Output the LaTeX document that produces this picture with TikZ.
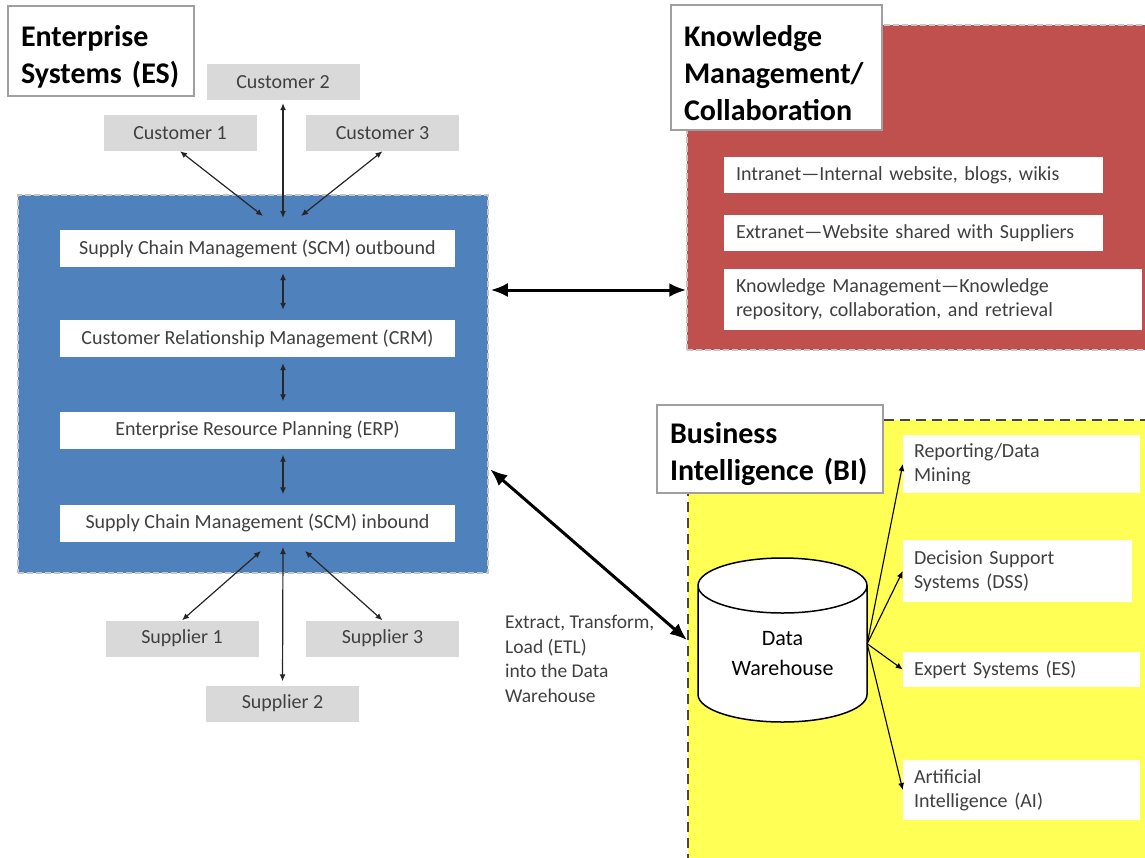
\documentclass[tikz,border=0pt]{standalone}
\usepackage{fontspec}
\setmainfont{Carlito}
\usetikzlibrary{arrows.meta,positioning}
\definecolor{esblue}{HTML}{4F81BD}
\definecolor{kmred}{HTML}{C0504D}
\definecolor{biyellow}{HTML}{FFFF55}
\definecolor{partgray}{HTML}{D9D9D9}
\definecolor{txtgray}{HTML}{404040}
\begin{document}
\begin{tikzpicture}[x=1pt,y=-1pt,
  headbox/.style={draw=gray!75,line width=1.5pt,fill=white,align=left,inner xsep=13pt,inner ysep=0pt,
    font=\bfseries\fontsize{30}{37}\selectfont,execute at begin node={\rule{0pt}{32pt}}},
  areabox/.style={draw=gray!45,line width=1.5pt,dash pattern=on 6pt off 3pt,inner sep=0pt},
  partbox/.style={fill=partgray,minimum width=153pt,minimum height=36pt,inner sep=0pt,text=txtgray,
    font=\fontsize{20}{24}\selectfont},
  layer/.style={fill=white,minimum width=395pt,minimum height=37pt,inner sep=0pt,text=txtgray,
    font=\fontsize{20}{24}\selectfont},
  item/.style={fill=white,align=left,inner xsep=12pt,inner ysep=0pt,text=txtgray,
    font=\fontsize{20}{24}\selectfont},
  drumcap/.style={x radius=84.5pt,y radius=27.5pt},
  link/.style={line width=1.2pt,draw=black!85,{Latex[length=7pt,width=6pt]}-{Latex[length=7pt,width=6pt]}},
  biglink/.style={line width=3pt,{Latex[length=17pt,width=14pt]}-{Latex[length=17pt,width=14pt]},shorten <=2pt},
  feed/.style={line width=1.1pt,-{Latex[length=7pt,width=6pt]}}]
\useasboundingbox (0,0) rectangle (1145,857);

% enterprise systems
\node[areabox,fill=esblue,minimum width=470pt,minimum height=378pt] (es) at (253,384) {};
\node[headbox,text width=160pt,minimum height=90pt] (estitle) at (101,51) {Enterprise\\Systems (ES)};

\node[layer] (scmout) at (257.5,248.5) {Supply Chain Management (SCM) outbound};
\node[layer] (crm) at (257.5,338.5) {Customer Relationship Management (CRM)};
\node[layer] (erp) at (257.5,430) {Enterprise Resource Planning (ERP)};
\node[layer] (scmin) at (257.5,523) {Supply Chain Management (SCM) inbound};

\node[partbox] (cust2) at (283,82) {Customer 2};
\node[partbox] (cust1) at (180,133) {Customer 1};
\node[partbox] (cust3) at (382.5,133) {Customer 3};
\node[partbox] (sup1) at (182,638.5) {Supplier 1};
\node[partbox] (sup3) at (382.5,638.5) {Supplier 3};
\node[partbox] (sup2) at (282.5,703.5) {Supplier 2};

\coordinate (c1in) at (263,216);
\coordinate (c2in) at (283,218);
\coordinate (c3in) at (301,216);
\coordinate (s1in) at (261,551);
\coordinate (s2in) at (283,547);
\coordinate (s3in) at (305,551);

\draw[link] (cust1.south) -- (c1in);
\draw[link,shorten <=3pt] (cust2.south) -- (c2in);
\draw[link] (cust3.south) -- (c3in);
\draw[link] (s1in) -- (sup1.north);
\draw[link,shorten >=4pt] (s2in) -- (sup2.north);
\draw[link] (s3in) -- (sup3.north);

\draw[link,shorten <=6pt,shorten >=10pt] (scmout.south -| c2in) -- (crm.north -| c2in);
\draw[link,shorten <=6pt,shorten >=10pt] (crm.south -| c2in) -- (erp.north -| c2in);
\draw[link,shorten <=6pt,shorten >=10pt] (erp.south -| c2in) -- (scmin.north -| c2in);

% knowledge management
\node[areabox,fill=kmred,minimum width=470pt,minimum height=325pt] (km) at (922,187.5) {};
\node[headbox,text width=185pt,minimum height=125pt] (kmtitle) at (776.5,67.5) {Knowledge\\Management/\\Collaboration};
\node[item,text width=355pt,minimum height=36pt] (intra) at (913.5,175) {Intranet---Internal website, blogs, wikis};
\node[item,text width=355pt,minimum height=36pt] (extra) at (913.5,233) {Extranet---Website shared with Suppliers};
\node[item,text width=394pt,minimum height=61pt] (kmrep) at (933,299.5) {Knowledge Management---Knowledge\\repository, collaboration, and retrieval};

% business intelligence
\node[draw=gray!55!black,line width=2pt,dash pattern=on 10pt off 6pt,fill=biyellow,inner sep=0pt,
  minimum width=470pt,minimum height=450pt] (bi) at (923,645) {};
\node[headbox,text width=200pt,minimum height=88pt] (bititle) at (770,449) {Business\\Intelligence (BI)};
\node[item,inner xsep=11pt,text width=215pt,minimum height=58pt] (rep) at (1021.5,464) {Reporting/Data\\Mining};
\node[item,inner xsep=11pt,text width=207pt,minimum height=62pt] (dss) at (1017.5,571) {Decision Support\\Systems (DSS)};
\node[item,inner xsep=11pt,text width=215pt,minimum height=35pt] (expert) at (1021.5,669.5) {Expert Systems (ES)};
\node[item,inner xsep=11pt,text width=215pt,minimum height=60pt] (ai) at (1021.5,790) {Artificial\\Intelligence (AI)};

% data warehouse drum
\coordinate (dwtop) at (782.5,585.5);
\coordinate (dwbot) at (782.5,694.5);
\draw[line width=1.5pt,fill=white] ([xshift=-84.5pt]dwtop) -- ([xshift=-84.5pt]dwbot)
  arc[start angle=180,end angle=360,drumcap] -- ([xshift=84.5pt]dwtop)
  arc[start angle=0,end angle=180,drumcap] arc[start angle=180,end angle=360,drumcap];
\node[minimum width=169pt,minimum height=136.5pt,inner sep=0pt,align=center,
  font=\fontsize{22}{30}\selectfont] (dw) at (782.5,653.75) {Data\\Warehouse};

\draw[feed] ([yshift=10pt]dw.east) -- (rep.west);
\draw[feed] ([yshift=10pt]dw.east) -- (dss.west);
\draw[feed] ([yshift=10pt]dw.east) -- (expert.west);
\draw[feed] ([yshift=10pt]dw.east) -- (ai.west);

% connections between the systems
\coordinate (kmlevel) at (0,290);
\coordinate (etllevel) at (0,468);
\coordinate (dwlevel) at (0,640);
\draw[biglink] (es.east |- kmlevel) -- (km.west |- kmlevel);
\draw[biglink] (es.east |- etllevel) -- (bi.west |- dwlevel);
\node[align=left,anchor=west,inner sep=0pt,text=txtgray,font=\fontsize{19.5}{24.5}\selectfont] (etl) at (505,659)
  {Extract, Transform,\\Load (ETL)\\into the Data\\Warehouse};
\end{tikzpicture}
\end{document}
